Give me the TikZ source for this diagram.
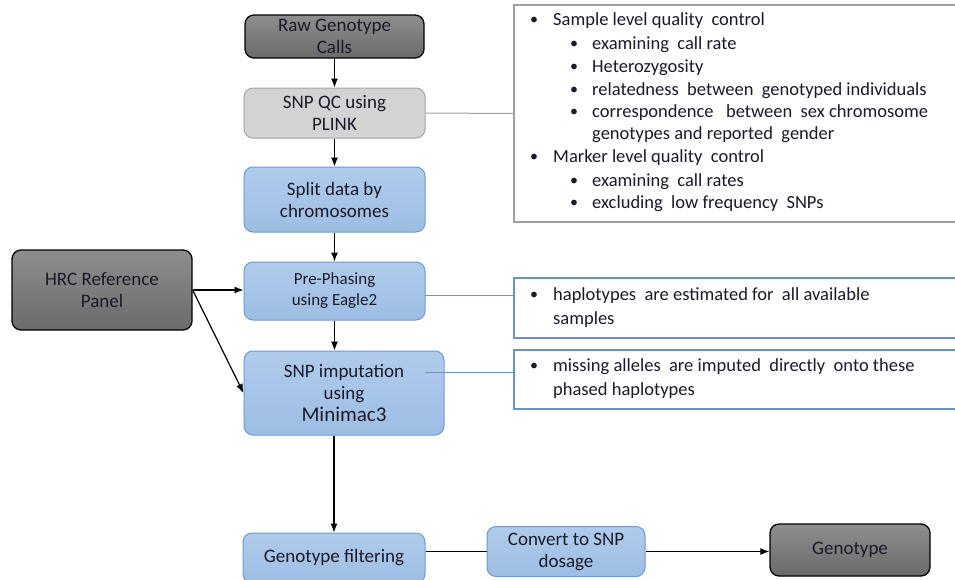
\documentclass[tikz,border=0pt]{standalone}
\usepackage{fontspec}
\setmainfont{Carlito}
\usetikzlibrary{arrows.meta}
\definecolor{darkTop}{HTML}{8E8E8E}
\definecolor{darkBot}{HTML}{6A6A6A}
\definecolor{lightFill}{HTML}{D3D3D3}
\definecolor{lightBorder}{HTML}{A6A6A6}
\definecolor{blueTop}{HTML}{B0CCEC}
\definecolor{blueBot}{HTML}{9DBDE3}
\definecolor{blueBorder}{HTML}{6D9BD1}
\definecolor{noteBlue}{HTML}{6A93C4}
\definecolor{noteGray}{HTML}{A0A0A0}
\definecolor{txt}{HTML}{1A1A2A}
\begin{document}
\begin{tikzpicture}[x=1pt,y=-1pt,
  box/.style={rounded corners=9pt, align=center, inner sep=0pt, text=txt,
    font=\fontsize{19}{22}\selectfont},
  darkbox/.style={box, draw=black, line width=1.3pt, top color=darkTop, bottom color=darkBot},
  lightbox/.style={box, draw=lightBorder, line width=1pt, fill=lightFill},
  bluebox/.style={box, draw=blueBorder, line width=1pt, top color=blueTop, bottom color=blueBot},
  note/.style={draw=noteBlue, line width=1.3pt, inner sep=0pt},
  arr/.style={-{Latex[length=9pt,width=7pt]}, line width=1.2pt, black},
  ln/.style={anchor=west, inner sep=0pt, text=txt, font=\fontsize{18.5}{22}\selectfont,
    text height=13pt, text depth=4pt},
  bul/.style={anchor=center, inner sep=0pt, text=txt, font=\fontsize{16}{20}\selectfont}
]
\useasboundingbox (0,0) rectangle (955,579);
\fill[white] (0,0) rectangle (955,579);

% main column
\node[darkbox, minimum width=179pt, minimum height=43pt] (raw) at (334.5,36.5) {Raw Genotype\\Calls};
\node[lightbox, minimum width=181pt, minimum height=50pt] (qc) at (334.5,113) {SNP QC using\\PLINK};
\node[bluebox, minimum width=181pt, minimum height=65pt] (split) at (334.5,199.5) {Split data by\\chromosomes};
\node[bluebox, minimum width=181pt, minimum height=58pt, font=\fontsize{17}{21}\selectfont] (pre) at (334.5,291) {Pre-Phasing\\using Eagle2};
\node[bluebox, minimum width=200pt, minimum height=84pt] (imp) at (344,393) {SNP imputation\\using\\{\fontsize{21}{24}\selectfont Minimac3}};
\node[darkbox, minimum width=180pt, minimum height=80pt] (hrc) at (102,290) {HRC Reference\\Panel};
\node[bluebox, minimum width=182pt, minimum height=50pt] (filt) at (334,558) {Genotype filtering};
\node[bluebox, minimum width=158pt, minimum height=50pt] (conv) at (566,551.5) {Convert to SNP\\dosage};
\node[darkbox, minimum width=160pt, minimum height=52pt] (geno) at (850,550) {Genotype};

% note boxes
\node[note, draw=noteGray, minimum width=443pt, minimum height=217pt] (b1) at (735.5,113.5) {};
\node[note, minimum width=443pt, minimum height=60pt] (b2) at (735.5,308) {};
\node[note, minimum width=443pt, minimum height=59pt] (b3) at (735.5,379.5) {};

% note texts, box 1
\node[bul] (d1) at (534,21) {•};
\node[ln] (t1) at (553,21) {Sample level quality\ \ control};
\node[bul] (d2) at (574,45) {•};
\node[ln] (t2) at (592,45) {examining\ \ call rate};
\node[bul] (d3) at (574,68) {•};
\node[ln] (t3) at (592,68) {Heterozygosity};
\node[bul] (d4) at (574,91) {•};
\node[ln] (t4) at (592,91) {relatedness\ \ between\ \ genotyped individuals};
\node[bul] (d5) at (574,113) {•};
\node[ln] (t5) at (592,113) {correspondence\ \ \ between\ \ sex chromosome};
\node[ln] (t6) at (592,135) {genotypes and reported\ \ gender};
\node[bul] (d7) at (534,158) {•};
\node[ln] (t7) at (553,158) {Marker level quality\ \ control};
\node[bul] (d8) at (574,182) {•};
\node[ln] (t8) at (592,182) {examining\ \ call rates};
\node[bul] (d9) at (574,204) {•};
\node[ln] (t9) at (592,204) {excluding\ \ low frequency\ \ SNPs};
% box 2
\node[bul] (d10) at (534,296) {•};
\node[ln] (t10) at (553,296) {haplotypes\ \ are estimated for\ \ all available};
\node[ln] (t11) at (553,320) {samples};
% box 3
\node[bul] (d12) at (534,367) {•};
\node[ln] (t12) at (553,367) {missing alleles\ \ are imputed\ \ directly\ \ onto these};
\node[ln] (t13) at (553,391) {phased haplotypes};

% connectors
\draw[arr] (raw.south) -- (qc.north);
\draw[arr] (qc.south) -- (split.north);
\draw[arr] (split.south) -- (pre.north);
\draw[arr] (pre.south) -- (pre.south |- imp.north);
\draw[arr] (imp.south -| filt.north) -- (filt.north);
\draw[arr] (hrc.east) -- (hrc.east -| pre.west);
\draw[arr] (hrc.east) -- (imp.west);
\draw[line width=1.6pt, black] (conv.west -| filt.east) -- (conv.west);
\draw[arr] (conv.east) -- (conv.east -| geno.west);

\draw[noteGray, line width=1pt] (qc.east) -- (b1.west);
\coordinate (preR) at (425,295);
\draw[noteBlue, line width=1pt] (preR) -- (preR -| b2.west);
\coordinate (impR) at (425,372);
\draw[noteBlue, line width=1pt] (impR) -- (impR -| b3.west);
\end{tikzpicture}
\end{document}
